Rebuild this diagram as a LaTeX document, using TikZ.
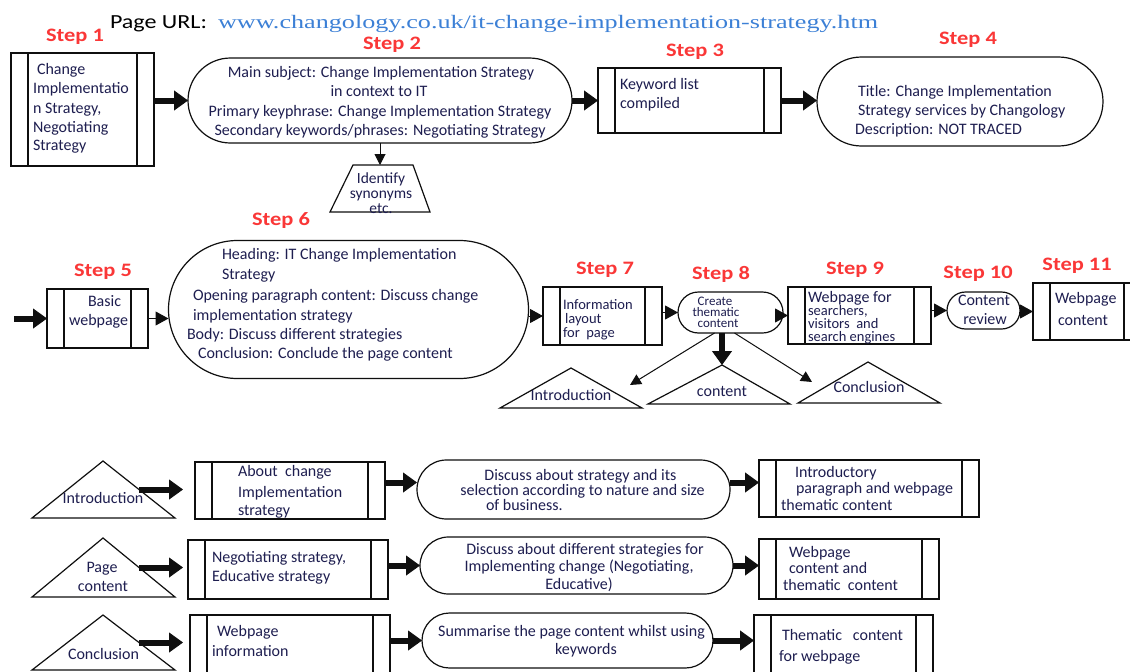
\documentclass[tikz,border=0pt]{standalone}
\usepackage{fontspec}
\setmainfont{Carlito}
\newfontfamily\urlfont{Liberation Serif}
\usepackage{graphicx}
\usetikzlibrary{shapes.misc,shapes.geometric,arrows.meta,calc}
\definecolor{txtc}{RGB}{30,30,80}
\definecolor{stepred}{RGB}{250,55,55}
\definecolor{urlblue}{RGB}{60,128,214}
\definecolor{linec}{RGB}{15,15,15}
\newcommand{\stepname}[1]{\scalebox{1.18}[1]{Step #1}}
\tikzset{
  every node/.style={inner sep=0pt, outer sep=0pt},
  procbox/.style={draw=linec, line width=1.6pt, rectangle, path picture={
      \draw[linec, line width=1.6pt]
        ([xshift=17pt]path picture bounding box.north west) -- ([xshift=17pt]path picture bounding box.south west)
        ([xshift=-17pt]path picture bounding box.north east) -- ([xshift=-17pt]path picture bounding box.south east);}},
  stadium/.style={draw=linec, line width=1.2pt, rounded rectangle},
  tl/.style={anchor=base west, text=txtc, font=\fontsize{16}{19}\selectfont},
  tc/.style={anchor=base, text=txtc, font=\fontsize{16}{19}\selectfont},
  tight/.style={font=\fontsize{14.5}{15}\selectfont},
  tighter/.style={font=\fontsize{13}{13}\selectfont},
  steplbl/.style={text=stepred, font=\bfseries\fontsize{19}{19}\selectfont},
  bigarrow/.style={draw=linec, line width=6pt, -{Triangle[length=14pt,width=20pt,line width=1pt]}},
  headarrow/.style={draw=linec, line width=1pt, -{Triangle[length=13pt,width=14pt]}},
  thinarrow/.style={draw=linec, line width=1pt, -{Triangle[length=11pt,width=11pt]}},
  triline/.style={draw=linec, line width=1.2pt, line join=miter},
}
\begin{document}
\begin{tikzpicture}[x=1pt,y=-1pt]
\useasboundingbox (0,0) rectangle (1130,672);
\clip (0,0) rectangle (1130,672);
\fill[white] (0,0) rectangle (1130,672);

% title
\node[anchor=base west, text=black, font=\fontsize{20}{20}\selectfont] (pgurl) at (110,28) {\resizebox{97pt}{\height}{Page URL:}};
\node[anchor=base west, text=urlblue, font=\urlfont\fontsize{19}{19}\selectfont] (url) at (218,28) {\resizebox{660pt}{\height}{www.changology.co.uk/it-change-implementation-strategy.htm}};

% step labels
\node[steplbl] (L1) at (75,37) {\stepname{1}};
\node[steplbl] (L2) at (392,45) {\stepname{2}};
\node[steplbl] (L3) at (695,52) {\stepname{3}};
\node[steplbl] (L4) at (968,40) {\stepname{4}};
\node[steplbl] (L5) at (103,272) {\stepname{5}};
\node[steplbl] (L6) at (281,221) {\stepname{6}};
\node[steplbl] (L7) at (605,270) {\stepname{7}};
\node[steplbl] (L8) at (721,274) {\stepname{8}};
\node[steplbl] (L9) at (855,270) {\stepname{9}};
\node[steplbl] (L10) at (978,274) {\stepname{10}};
\node[steplbl] (L11) at (1077,266) {\stepname{11}};

% main shapes
\node[procbox, minimum width=143pt, minimum height=113pt] (s1) at (82.5,109.5) {};
\node[stadium, minimum width=384pt, minimum height=85pt] (s2) at (380,100.5) {};
\draw[triline] (353,165) -- (413,165) -- (430,212) -- (330,212) -- cycle;
\coordinate (trapTop) at (380,165);
\node[procbox, minimum width=183pt, minimum height=65pt] (s3) at (689.5,100.5) {};
\node[stadium, minimum width=286pt, minimum height=89pt] (s4) at (960,101.5) {};
\node[procbox, minimum width=101pt, minimum height=59pt] (s5) at (97.5,318.5) {};
\node[stadium, minimum width=360pt, minimum height=138pt] (s6) at (348.5,309.5) {};
\node[procbox, minimum width=119pt, minimum height=58pt] (s7) at (602.5,316) {};
\node[stadium, minimum width=105pt, minimum height=41pt] (s8) at (730.5,312.5) {};
\node[procbox, minimum width=143pt, minimum height=57pt] (s9) at (859.5,315.5) {};
\node[stadium, minimum width=73pt, minimum height=37pt] (s10) at (983.5,310.5) {};
\node[procbox, minimum width=108pt, minimum height=57pt] (s11) at (1087,311.5) {};

% triangles under step 8
\draw[triline] (571,368) -- (500,408) -- (642,408) -- cycle;
\draw[triline] (722,365) coordinate (capex) -- (648,404) -- (790,404) -- cycle;
\draw[triline] (868,362) -- (798,403) -- (940,403) -- cycle;

% bottom rows
\node[procbox, minimum width=190pt, minimum height=57pt] (A1) at (290,490.5) {};
\node[stadium, minimum width=313pt, minimum height=59pt] (B1) at (573.5,489.5) {};
\node[procbox, minimum width=220pt, minimum height=57pt] (C1) at (869,488.5) {};
\node[procbox, minimum width=200pt, minimum height=59pt] (A2) at (288,569.5) {};
\node[stadium, minimum width=313pt, minimum height=57pt] (B2) at (576.5,565.5) {};
\node[procbox, minimum width=180pt, minimum height=60pt] (C2) at (849,569) {};
\node[procbox, minimum width=200pt, minimum height=75pt] (A3) at (290,652.5) {};
\node[stadium, minimum width=291pt, minimum height=55pt] (B3) at (567.5,640.5) {};
\node[procbox, minimum width=179pt, minimum height=75pt] (C3) at (843.5,652.5) {};

\draw[triline] (103,461) coordinate (p1) -- (32,518) -- (175,518) coordinate (q1) -- cycle;
\draw[triline] (103,538) coordinate (p2) -- (32,597) -- (175,597) coordinate (q2) -- cycle;
\draw[triline] (103,615) coordinate (p3) -- (32,670) -- (175,670) coordinate (q3) -- cycle;
\coordinate (r1) at ($(p1)!0.5!(q1)$);
\coordinate (r2) at ($(p2)!0.5!(q2)$);
\coordinate (r3) at ($(p3)!0.5!(q3)$);

% connectors top
\draw[bigarrow] (s1.east |- s2.west) -- (s2.west);
\draw[bigarrow] (s2.east) -- (s2.east -| s3.west);
\draw[bigarrow] (s3.east) -- (s3.east -| s4.west);
\draw[thinarrow] (s2.south) -- (trapTop);
\coordinate (in5) at (14,318.5);
\draw[bigarrow] (in5) -- (s5.west);
\draw[headarrow] (s5.east) -- (s5.east -| s6.west);
\draw[headarrow] (s6.east |- s7.west) -- (s7.west);
\draw[headarrow] (s7.east |- s8.west) -- (s8.west);
\draw[headarrow] (s8.east |- s9.west) -- (s9.west);
\draw[headarrow] (s9.east |- s10.west) -- (s10.west);
\draw[headarrow] (s10.east |- s11.west) -- (s11.west);
\draw[bigarrow] (s8.south -| capex) -- (capex);
\coordinate (itip) at (630,385);
\coordinate (ctip) at (812,382);
\draw[thinarrow] ([xshift=-16pt]s8.south) -- (itip);
\draw[thinarrow] ([xshift=4pt]s8.south) -- (ctip);

% connectors bottom
\draw[bigarrow, shorten >=12pt] (r1) -- (r1 -| A1.west);
\draw[bigarrow] ([yshift=8pt]A1.east) -- ([yshift=8pt]A1.east -| B1.west);
\draw[bigarrow] ([yshift=8pt]A1.east -| B1.east) -- ([yshift=8pt]A1.east -| C1.west);
\draw[bigarrow, shorten >=5pt] (r2) -- (r2 -| A2.west);
\draw[bigarrow] (A2.east |- B2.west) -- (B2.west);
\draw[bigarrow] (B2.east) -- (B2.east -| C2.west);
\draw[bigarrow, shorten >=7pt] (r3) -- (r3 -| A3.west);
\draw[bigarrow] (A3.east |- B3.west) -- (B3.west);
\draw[bigarrow] (B3.east) -- (B3.east -| C3.west);

% texts step 1
\node[tl] (t1a) at (37,74) {Change};
\node[tl] (t1b) at (33,93) {Implementatio};
\node[tl] (t1c) at (33,113) {n Strategy,};
\node[tl] (t1d) at (33,132) {Negotiating};
\node[tl] (t1e) at (33,150) {Strategy};
% step 2
\node[tc] (t2a) at (381,77) {Main subject: Change Implementation Strategy};
\node[tc] (t2b) at (379,96) {in context to IT};
\node[tc] (t2c) at (380,116) {Primary keyphrase: Change Implementation Strategy};
\node[tc] (t2d) at (380,135) {Secondary keywords/phrases: Negotiating Strategy};
% trapezium
\node[tc, font=\fontsize{15.5}{15}\selectfont] (tr1) at (381,183) {Identify};
\node[tc, font=\fontsize{15.5}{15}\selectfont] (tr2) at (381,198) {synonyms};
\node[tc, font=\fontsize{15.5}{15}\selectfont] (tr3) at (381,213) {etc.};
% step 3
\node[tl] (t3a) at (620,89) {Keyword list};
\node[tl] (t3b) at (620,108) {compiled};
% step 4
\node[tl] (t4a) at (858,96) {Title: Change Implementation};
\node[tl] (t4b) at (858,115) {Strategy services by Changology};
\node[tl] (t4c) at (855,134) {Description: NOT TRACED};
% step 5
\node[tl] (t5a) at (88,306) {Basic};
\node[tl] (t5b) at (69,325) {webpage};
% step 6
\node[tl] (t6a) at (222,259) {Heading: IT Change Implementation};
\node[tl] (t6b) at (222,279) {Strategy};
\node[tl] (t6c) at (193,300) {Opening paragraph content: Discuss change};
\node[tl] (t6d) at (193,320) {implementation strategy};
\node[tl] (t6e) at (187,339) {Body: Discuss different strategies};
\node[tl] (t6f) at (198,358) {Conclusion: Conclude the page content};
% step 7
\node[tl, tight] (t7a) at (563,309) {Information};
\node[tl, tight] (t7b) at (565,323) {layout};
\node[tl, tight] (t7c) at (563,337) {for\ \ page};
% step 8
\node[tc, tighter] (t8a) at (715,305) {Create};
\node[tc, tighter] (t8b) at (716,316) {thematic};
\node[tc, tighter] (t8c) at (718,327) {content};
% step 9
\node[tl] (t9a) at (808,302) {Webpage for};
\node[tl, tight] (t9b) at (808,315) {searchers,};
\node[tl, tight] (t9c) at (808,328) {visitors\ \ and};
\node[tl, tight] (t9d) at (808,341) {search engines};
% step 10
\node[tc] (t10a) at (984,305) {Content};
\node[tc] (t10b) at (985,324) {review};
% step 11
\node[tl] (t11a) at (1055,303) {Webpage};
\node[tl] (t11b) at (1058,325) {content};
% triangles under step 8
\node[tc] (ti1) at (571,400) {Introduction};
\node[tc] (ti2) at (722,396) {content};
\node[tc] (ti3) at (869,392) {Conclusion};
% bottom row 1
\node[tc] (b1t) at (103,503) {Introduction};
\node[tl] (a1a) at (238,476) {About\ \ change};
\node[tl] (a1b) at (238,497) {Implementation};
\node[tl] (a1c) at (238,515) {strategy};
\node[tc] (b1a) at (580.5,480) {Discuss about strategy and its};
\node[tc] (b1b) at (582.5,495) {selection according to nature and size};
\node[tl] (b1c) at (486,510) {of business.};
\node[tl] (c1a) at (795,477) {Introductory};
\node[tl] (c1b) at (796,493) {paragraph and webpage};
\node[tl] (c1c) at (781,510) {thematic content};
% bottom row 2
\node[tc] (b2t1) at (102,572) {Page};
\node[tc] (b2t2) at (103,591) {content};
\node[tl] (a2a) at (212,562) {Negotiating strategy,};
\node[tl] (a2b) at (212,581) {Educative strategy};
\node[tc] (b2a) at (585,554) {Discuss about different strategies for};
\node[tc] (b2b) at (579,571) {Implementing change (Negotiating,};
\node[tc] (b2c) at (579,589) {Educative)};
\node[tl] (c2a) at (789,557) {Webpage};
\node[tl] (c2b) at (789,573) {content and};
\node[tl] (c2c) at (783,590) {thematic\ \ content};
% bottom row 3
\node[tc] (b3t) at (103.5,659) {Conclusion};
\node[tl] (a3a) at (217,636) {Webpage};
\node[tl] (a3b) at (212,656) {information};
\node[tc] (b3a) at (571.5,636) {Summarise the page content whilst using};
\node[tc] (b3b) at (586,654) {keywords};
\node[tl] (c3a) at (782,640) {Thematic\ \ \ content};
\node[tl] (c3b) at (779,661) {for webpage};
\end{tikzpicture}
\end{document}
